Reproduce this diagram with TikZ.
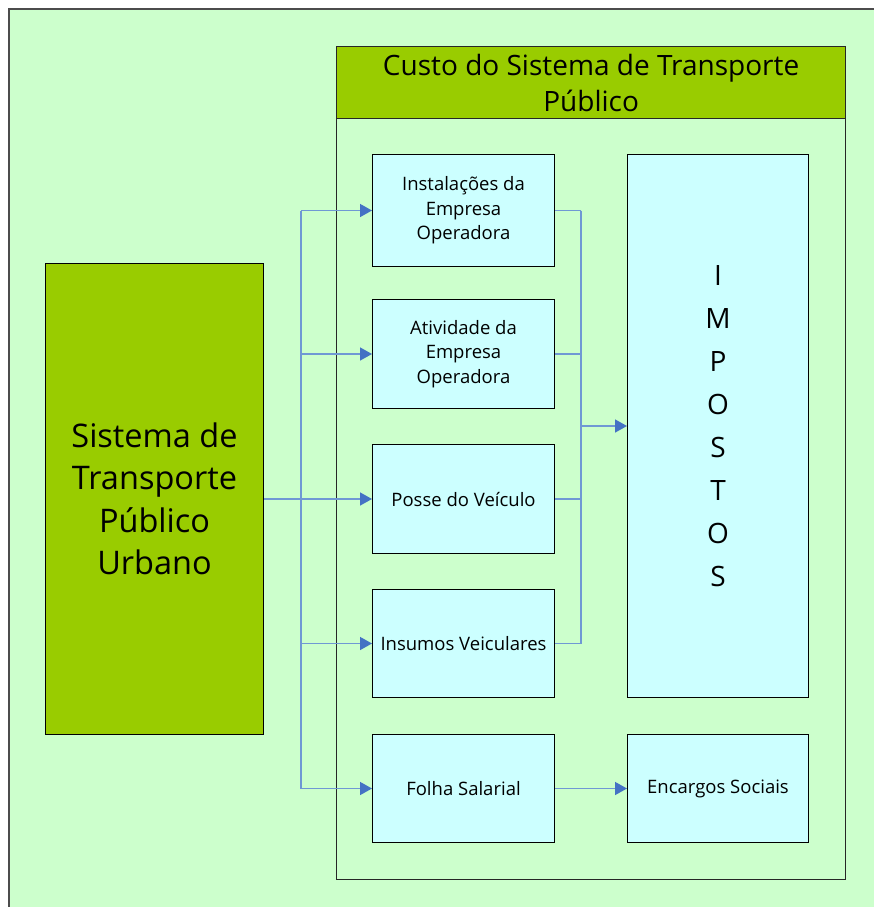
\documentclass[tikz,border=0pt]{standalone}
\usepackage{fontspec}
\setmainfont{Open Sans}
\usetikzlibrary{arrows.meta}
\definecolor{bggreen}{HTML}{CCFFCC}
\definecolor{olivebox}{HTML}{99CC00}
\definecolor{cyanbox}{HTML}{CCFFFF}
\definecolor{connc}{HTML}{6F98D4}
\definecolor{tipc}{HTML}{4472C4}
\begin{document}
\begin{tikzpicture}[x=1pt,y=-1pt,
  cbox/.style={draw=black, line width=1pt, fill=cyanbox, minimum width=182pt, inner sep=0pt, anchor=north west, align=center, font=\fontsize{18.5}{24.5}\selectfont},
  conn/.style={draw=connc, line width=1.5pt},
  arr/.style={conn, -{Triangle[length=12pt,width=13pt,fill=tipc,color=tipc]}}]
\useasboundingbox (0,0) rectangle (873,907);
\fill[white] (0,0) rectangle (873,907);
\draw[fill=bggreen, draw=black!70, line width=1.3pt] (9,9) rectangle (890,930);
% container
\node[draw=black!85, line width=1.2pt, minimum width=509pt, minimum height=833pt, anchor=north west, inner sep=0pt] (cont) at (336,46) {};
\node[draw=black!85, line width=1.2pt, fill=olivebox, minimum width=509pt, minimum height=72pt, anchor=north west, inner sep=0pt, align=center, font=\fontsize{28}{36}\selectfont] (head) at (336,46) {Custo do Sistema de Transporte\\Público};
% left box
\node[draw=black, line width=1pt, fill=olivebox, minimum width=218pt, minimum height=471pt, anchor=north west, inner sep=0pt, align=center, font=\fontsize{32.5}{42.5}\selectfont] (sys) at (45,263) {Sistema de\\Transporte\\Público\\Urbano};
% small boxes
\node[cbox, minimum height=112pt] (b1) at (372,154) {Instalações da\\Empresa\\Operadora};
\node[cbox, minimum height=109pt] (b2) at (372,299) {Atividade da\\Empresa\\Operadora};
\node[cbox, minimum height=109pt] (b3) at (372,444) {Posse do Veículo};
\node[cbox, minimum height=108pt] (b4) at (372,589) {Insumos Veiculares};
\node[cbox, minimum height=108pt] (b5) at (372,734) {Folha Salarial};
\node[cbox, minimum width=181pt, minimum height=543pt, font=\fontsize{28}{43}\selectfont] (imp) at (627,154) {I\\M\\P\\O\\S\\T\\O\\S};
\node[cbox, minimum width=181pt, minimum height=108pt] (enc) at (627,734) {\raisebox{-2pt}{Encargos Sociais}};
% connectors
\coordinate (lx) at (301,0);
\coordinate (rx) at (581,0);
\draw[conn] (sys.east) -- (lx |- sys.east);
\draw[conn] (lx |- b1.west) -- (lx |- b5.west);
\foreach \b in {b1,b2,b3,b4,b5} {
  \draw[arr] (lx |- \b.west) -- (\b.west);
}
\foreach \b in {b1,b2,b3,b4} {
  \draw[conn] (\b.east) -- (rx |- \b.east);
}
\draw[conn] (rx |- b1.east) -- (rx |- b4.east);
\draw[arr] (rx |- imp.west) -- (imp.west);
\draw[arr] (b5.east) -- (enc.west);
\end{tikzpicture}
\end{document}
